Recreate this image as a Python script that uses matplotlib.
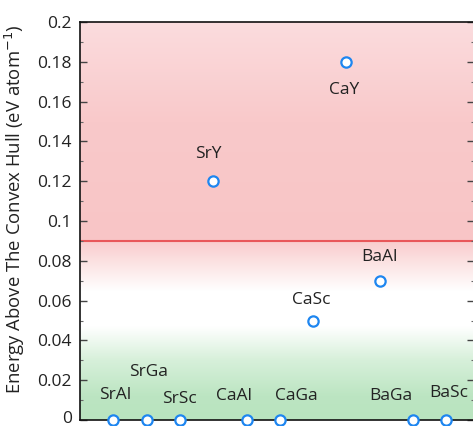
import numpy as np
import matplotlib
matplotlib.use("Agg")
import matplotlib.pyplot as plt
from matplotlib.transforms import ScaledTranslation

plt.rcParams['font.family'] = ['Open Sans', 'DejaVu Sans']

compounds = ["SrAl", "SrGa", "SrSc", "SrY", "CaAl", "CaGa", "CaSc", "CaY", "BaAl", "BaGa", "BaSc"]
energy = [0.0, 0.0, 0.0, 0.12, 0.0, 0.0, 0.05, 0.18, 0.07, 0.0, 0.0]
# label offsets in pixels (dx, dy)
label_offsets = [(2, 25), (2, 48), (0, 21), (-5, 27), (-13, 24), (17, 24),
                 (-2, 20), (-2, -28), (0, 24), (-22, 24), (2, 27)]
threshold = 0.09
yticks = [0, 0.02, 0.04, 0.06, 0.08, 0.1, 0.12, 0.14, 0.16, 0.18, 0.2]
ytick_labels = ["0", "0.02", "0.04", "0.06", "0.08", "0.1", "0.12", "0.14", "0.16", "0.18", "0.2"]

fig = plt.figure(figsize=(4.73, 4.26), dpi=100)
ax = fig.add_axes([80/473, 6/426, 1 - 80/473 + 0.002, (420-22)/426])

x = np.arange(len(compounds))
xlim = (-1, 10.83)
ylim = (0, 0.2)

# background gradient
stops_y = [0.0, 0.012, 0.03, 0.047, 0.065, 0.0895, 0.0896, 0.15, 0.2]
stops_c = [(185, 228, 191), (188, 229, 194), (215, 240, 218), (255, 255, 255), (255, 255, 255),
           (249, 205, 206), (248, 197, 198), (249, 201, 202), (251, 220, 222)]
ys = np.linspace(0, 0.2, 800)
img = np.zeros((len(ys), 1, 3))
for ch in range(3):
    img[:, 0, ch] = np.interp(ys, stops_y, [c[ch] for c in stops_c]) / 255.0
ax.imshow(img, extent=[xlim[0], xlim[1], 0, 0.2], origin='lower', aspect='auto', zorder=0,
          interpolation='bilinear')

ax.axhline(threshold, color='#E8575A', lw=1.5, zorder=1)

ax.scatter(x, energy, s=55, facecolor='white', edgecolor='#1E86F0', linewidths=1.6,
           zorder=5, clip_on=False)

for xi, yi, name, (dx, dy) in zip(x, energy, compounds, label_offsets):
    ax.annotate(name, (xi, yi), xytext=(dx, dy), textcoords='offset pixels',
                ha='center', va='center', fontsize=12.5, color='#222222', zorder=6)

ax.set_xlim(*xlim)
ax.set_ylim(*ylim)
ax.set_xticks([])
ax.set_yticks(yticks)
ax.set_yticklabels(ytick_labels)
ax.set_yticks(np.arange(0.01, 0.2, 0.02), minor=True)
ax.tick_params(axis='y', which='major', direction='in', length=5, width=1, color='#444444',
               labelsize=12.5, labelcolor='#222222', right=True, pad=6)
ax.tick_params(axis='y', which='minor', direction='in', length=2.5, width=0.8, color='#666666', right=True)
for s in ax.spines.values():
    s.set_linewidth(1.2)
    s.set_color('#111111')

# nudge the "0" label up slightly so it stays inside the figure
zero_lab = ax.get_yticklabels()[0]
zero_lab.set_transform(zero_lab.get_transform() + ScaledTranslation(0, 3/100, fig.dpi_scale_trans))

ax.set_ylabel("Energy Above The Convex Hull (eV atom$^{-1}$)", fontsize=13.3, color='#222222')
ax.yaxis.set_label_coords(-0.135, 0.53)

fig.savefig("out.png", dpi=100)
